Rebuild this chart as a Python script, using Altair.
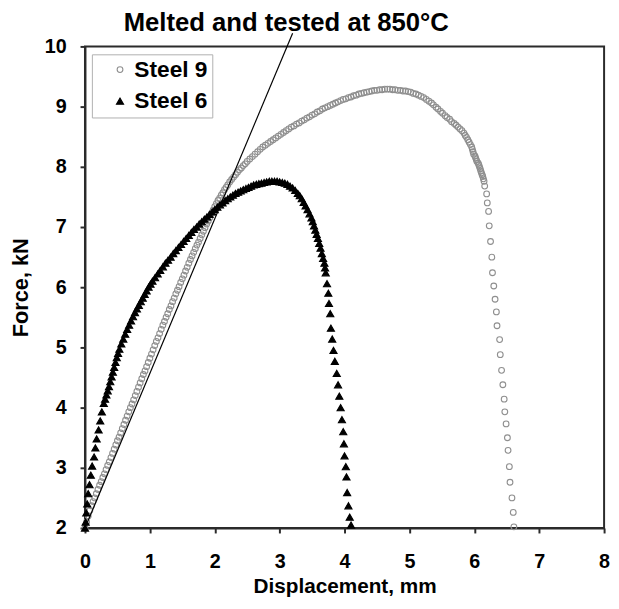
import altair as alt
import pandas as pd

# ---- data ----
SERIES = ["Steel 9", "Steel 6"]

STEEL9 = [
    (0.0, 2.0), (0.025, 2.1), (0.05, 2.2), (0.075, 2.29), (0.1, 2.37), (0.125, 2.44),
    (0.15, 2.5), (0.175, 2.57), (0.2, 2.64), (0.225, 2.71), (0.25, 2.77), (0.275, 2.84),
    (0.3, 2.9), (0.325, 2.97), (0.35, 3.04), (0.375, 3.1), (0.4, 3.17), (0.425, 3.24),
    (0.45, 3.31), (0.475, 3.38), (0.5, 3.45), (0.525, 3.51), (0.55, 3.58), (0.575, 3.65),
    (0.6, 3.72), (0.625, 3.79), (0.65, 3.86), (0.675, 3.93), (0.7, 4.0), (0.725, 4.06),
    (0.75, 4.13), (0.775, 4.2), (0.8, 4.27), (0.825, 4.34), (0.85, 4.41), (0.875, 4.48),
    (0.9, 4.55), (0.925, 4.61), (0.95, 4.68), (0.975, 4.75), (1.0, 4.82), (1.025, 4.89),
    (1.05, 4.96), (1.075, 5.03), (1.1, 5.1), (1.125, 5.16), (1.15, 5.23), (1.175, 5.3),
    (1.2, 5.37), (1.225, 5.43), (1.25, 5.5), (1.275, 5.56), (1.3, 5.63), (1.325, 5.69),
    (1.35, 5.76), (1.375, 5.82), (1.4, 5.89), (1.425, 5.95), (1.45, 6.01), (1.475, 6.08),
    (1.5, 6.14), (1.525, 6.2), (1.55, 6.27), (1.575, 6.33), (1.6, 6.4), (1.625, 6.46),
    (1.65, 6.52), (1.675, 6.58), (1.7, 6.64), (1.725, 6.7), (1.75, 6.75), (1.775, 6.81),
    (1.8, 6.87), (1.825, 6.93), (1.85, 6.99), (1.875, 7.05), (1.9, 7.1), (1.925, 7.16),
    (1.95, 7.22), (1.975, 7.28), (2.0, 7.34), (2.025, 7.39), (2.05, 7.44), (2.075, 7.48),
    (2.1, 7.53), (2.125, 7.57), (2.15, 7.62), (2.175, 7.66), (2.2, 7.7), (2.23, 7.75),
    (2.26, 7.79), (2.29, 7.83), (2.32, 7.87), (2.35, 7.91), (2.38, 7.95), (2.41, 7.98),
    (2.44, 8.02), (2.47, 8.05), (2.5, 8.09), (2.54, 8.13), (2.58, 8.17), (2.62, 8.21),
    (2.66, 8.25), (2.7, 8.29), (2.74, 8.33), (2.78, 8.36), (2.82, 8.39), (2.86, 8.42),
    (2.9, 8.45), (2.94, 8.48), (2.98, 8.51), (3.02, 8.54), (3.06, 8.57), (3.1, 8.6),
    (3.14, 8.63), (3.18, 8.66), (3.22, 8.68), (3.26, 8.71), (3.3, 8.73), (3.34, 8.76),
    (3.38, 8.78), (3.42, 8.81), (3.46, 8.83), (3.5, 8.86), (3.54, 8.88), (3.58, 8.91),
    (3.62, 8.93), (3.66, 8.96), (3.7, 8.98), (3.74, 9.0), (3.78, 9.02), (3.82, 9.04),
    (3.86, 9.06), (3.9, 9.08), (3.94, 9.1), (3.98, 9.12), (4.02, 9.13), (4.06, 9.15),
    (4.1, 9.16), (4.14, 9.18), (4.18, 9.19), (4.22, 9.21), (4.26, 9.22), (4.3, 9.23),
    (4.34, 9.24), (4.38, 9.25), (4.42, 9.26), (4.46, 9.27), (4.5, 9.27), (4.54, 9.28),
    (4.58, 9.28), (4.62, 9.29), (4.66, 9.29), (4.7, 9.29), (4.74, 9.28), (4.78, 9.28),
    (4.82, 9.27), (4.86, 9.27), (4.9, 9.26), (4.94, 9.26), (4.98, 9.25), (5.02, 9.24),
    (5.06, 9.22), (5.1, 9.21), (5.14, 9.19), (5.18, 9.17), (5.22, 9.15), (5.26, 9.12),
    (5.3, 9.09), (5.34, 9.06), (5.37, 9.03), (5.41, 8.99), (5.44, 8.96), (5.48, 8.92),
    (5.51, 8.89), (5.55, 8.85), (5.58, 8.82), (5.62, 8.79), (5.65, 8.75), (5.69, 8.72),
    (5.72, 8.69), (5.75, 8.66), (5.78, 8.63), (5.81, 8.6), (5.84, 8.56), (5.86, 8.52),
    (5.88, 8.49), (5.9, 8.45), (5.92, 8.41), (5.94, 8.37), (5.96, 8.33), (5.97, 8.29),
    (5.98, 8.25), (5.99, 8.21), (6.01, 8.18), (6.02, 8.15), (6.03, 8.12), (6.04, 8.09),
    (6.06, 8.06), (6.07, 8.03), (6.08, 8.0), (6.09, 7.97), (6.1, 7.93), (6.11, 7.9),
    (6.12, 7.87), (6.13, 7.84), (6.14, 7.8), (6.15, 7.76),
    (6.16, 7.68), (6.19, 7.55), (6.2, 7.4), (6.22, 7.26), (6.23, 7.02), (6.25, 6.76),
    (6.27, 6.5), (6.28, 6.24), (6.3, 6.02), (6.32, 5.8), (6.34, 5.59), (6.35, 5.36),
    (6.39, 5.13), (6.4, 4.88), (6.42, 4.62), (6.44, 4.38), (6.46, 4.14), (6.47, 3.93),
    (6.49, 3.73), (6.51, 3.5), (6.52, 3.29), (6.54, 3.02), (6.55, 2.76), (6.58, 2.5),
    (6.6, 2.26), (6.61, 2.02),
]

STEEL6 = [
    (0.0, 2.0), (0.01, 2.1), (0.02, 2.25), (0.035, 2.4), (0.05, 2.57), (0.07, 2.72),
    (0.09, 2.88), (0.11, 3.03), (0.14, 3.18), (0.16, 3.33), (0.18, 3.48), (0.21, 3.63),
    (0.235, 3.78), (0.26, 3.93), (0.29, 4.07), (0.31, 4.14), (0.33, 4.21), (0.35, 4.28),
    (0.37, 4.35), (0.39, 4.43), (0.41, 4.51), (0.43, 4.59), (0.45, 4.67), (0.47, 4.75),
    (0.49, 4.83), (0.51, 4.9), (0.53, 4.97), (0.56, 5.06), (0.59, 5.14), (0.62, 5.22),
    (0.65, 5.3), (0.68, 5.37), (0.71, 5.44), (0.74, 5.51), (0.77, 5.58), (0.8, 5.64),
    (0.83, 5.7), (0.86, 5.76), (0.89, 5.82), (0.92, 5.88), (0.95, 5.94), (0.98, 6.0),
    (1.01, 6.05), (1.04, 6.1), (1.08, 6.16), (1.12, 6.22), (1.16, 6.28), (1.2, 6.34),
    (1.24, 6.4), (1.28, 6.45), (1.32, 6.5), (1.36, 6.56), (1.4, 6.61), (1.44, 6.66),
    (1.48, 6.71), (1.52, 6.76), (1.56, 6.81), (1.6, 6.86), (1.64, 6.91), (1.68, 6.96),
    (1.72, 7.0), (1.76, 7.05), (1.8, 7.09), (1.84, 7.13), (1.88, 7.17), (1.92, 7.21),
    (1.96, 7.25), (2.0, 7.29), (2.04, 7.33), (2.08, 7.37), (2.12, 7.4), (2.16, 7.44),
    (2.2, 7.47), (2.24, 7.5), (2.28, 7.53), (2.32, 7.56), (2.36, 7.58), (2.4, 7.6),
    (2.44, 7.62), (2.48, 7.64), (2.52, 7.66), (2.56, 7.68), (2.6, 7.7), (2.64, 7.71),
    (2.68, 7.72), (2.72, 7.73), (2.76, 7.74), (2.8, 7.75), (2.84, 7.76), (2.88, 7.76),
    (2.92, 7.76), (2.96, 7.76), (3.0, 7.75), (3.04, 7.74), (3.08, 7.73), (3.12, 7.71),
    (3.16, 7.68), (3.2, 7.65), (3.24, 7.61), (3.28, 7.56), (3.31, 7.52), (3.34, 7.47),
    (3.37, 7.41), (3.4, 7.35), (3.43, 7.29), (3.46, 7.22), (3.49, 7.15), (3.51, 7.09),
    (3.53, 7.02), (3.55, 6.95), (3.57, 6.88), (3.59, 6.81), (3.61, 6.73), (3.63, 6.65),
    (3.65, 6.56), (3.67, 6.48), (3.69, 6.4), (3.7, 6.32), (3.71, 6.24), (3.73, 6.06),
    (3.75, 5.9), (3.76, 5.73), (3.78, 5.56), (3.79, 5.32), (3.81, 5.14), (3.83, 4.95),
    (3.85, 4.77), (3.88, 4.57), (3.9, 4.38), (3.92, 4.19), (3.94, 4.0), (3.96, 3.8),
    (3.98, 3.6), (3.99, 3.4), (4.0, 3.2), (4.02, 3.02), (4.03, 2.85), (4.04, 2.59),
    (4.06, 2.37), (4.08, 2.18), (4.1, 2.05),
]

FIT_DISP = [0.0, 3.2]
FIT_FORCE = [2.0, 10.22]

X_TICKS = [0, 1, 2, 3, 4, 5, 6, 7, 8]
Y_TICKS = [2, 3, 4, 5, 6, 7, 8, 9, 10]
TITLE = "Melted and tested at 850°C"

FONT = "Liberation Sans"
AXIS_COL = "#2b2b2b"

rows = [{"disp": x, "force": y, "series": "Steel 9"} for x, y in STEEL9]
rows += [{"disp": x, "force": y, "series": "Steel 6"} for x, y in STEEL6]
df = pd.DataFrame(rows)
fit = pd.DataFrame({"disp": FIT_DISP, "force": FIT_FORCE})

xscale = alt.Scale(domain=[0, 8], nice=False, zero=False)
yscale = alt.Scale(domain=[2, 10], nice=False, zero=False)
leg = alt.Legend(title=None)

points = alt.Chart(df).mark_point(strokeWidth=1.1, opacity=1).encode(
    x=alt.X("disp:Q", scale=xscale,
            axis=alt.Axis(values=X_TICKS, format="d", labelFlush=False, title="Displacement, mm",
                          labelPadding=19, titleX=263, titleY=59, titleBaseline="middle",
                          titleAlign="center", titleFontSize=21)),
    y=alt.Y("force:Q", scale=yscale,
            axis=alt.Axis(values=Y_TICKS, format="d", labelFlush=False, title="Force, kN",
                          labelPadding=14, titleX=-65, titleY=244, titleAngle=270,
                          titleBaseline="middle", titleAlign="center")),
    shape=alt.Shape("series:N", scale=alt.Scale(domain=SERIES, range=["circle", "triangle-up"]), legend=leg),
    stroke=alt.Stroke("series:N", scale=alt.Scale(domain=SERIES, range=["#8f8f8f", "#000000"]), legend=leg),
    fill=alt.Fill("series:N", scale=alt.Scale(domain=SERIES, range=["transparent", "#000000"]), legend=leg),
    size=alt.Size("series:N", scale=alt.Scale(domain=SERIES, range=[34, 52]), legend=leg),
)

line = alt.Chart(fit).mark_line(color="black", strokeWidth=1.2).encode(
    x=alt.X("disp:Q", scale=xscale),
    y=alt.Y("force:Q", scale=yscale),
)

title = alt.Chart(pd.DataFrame({"t": [TITLE]})).mark_text(
    font=FONT, fontSize=26, fontWeight="bold", color="black", align="center", baseline="alphabetic"
).encode(text="t:N", x=alt.value(204), y=alt.value(-16))

chart = alt.layer(points, line, title).properties(
    width=526, height=488,
    autosize=alt.AutoSizeParams(type="none"),
    padding={"left": 78, "top": 35, "right": 7, "bottom": 70},
).configure_axis(
    domainColor=AXIS_COL, domainWidth=2, tickColor=AXIS_COL, tickWidth=2, tickSize=5,
    grid=False, labelFont=FONT, labelFontSize=20, labelFontWeight="bold", labelColor="black",
    titleFont=FONT, titleFontSize=22, titleFontWeight="bold", titleColor="black",
).configure_view(
    stroke=AXIS_COL, strokeWidth=2
).configure_legend(
    orient="none", legendX=7, legendY=8, padding=4, strokeColor="#b0b0b0", fillColor="white",
    labelFont=FONT, labelFontSize=23, labelFontWeight="bold", labelColor="black",
    rowPadding=8, symbolOffset=13, labelOffset=3, symbolStrokeWidth=1.1,
    cornerRadius=0, strokeWidth=1,
)

chart.save("out.html", embed_options={"renderer": "svg", "actions": False})
